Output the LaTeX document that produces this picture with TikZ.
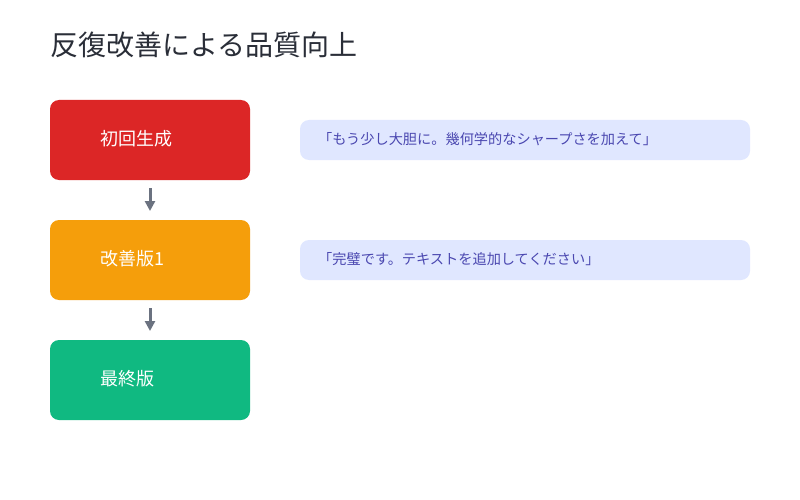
\documentclass[tikz,border=0pt]{standalone}
\usepackage{fontspec}
\setmainfont{Noto Sans CJK JP}
\usetikzlibrary{arrows.meta}
\definecolor{cred}{HTML}{DC2626}
\definecolor{corange}{HTML}{F59E0B}
\definecolor{cgreen}{HTML}{10B981}
\definecolor{carrow}{HTML}{6B7280}
\definecolor{cfbfill}{HTML}{E0E7FF}
\definecolor{cfbtext}{HTML}{4A47B0}
\definecolor{ctitle}{HTML}{2A2E38}
\begin{document}
\begin{tikzpicture}[x=1pt,y=-1pt,
  stage/.style={rounded corners=9pt, minimum width=200pt, minimum height=80pt, inner sep=0pt},
  stagetext/.style={anchor=west, text=white, font=\fontsize{18}{21}\selectfont, inner sep=0pt},
  fb/.style={fill=cfbfill, rounded corners=9pt},
  fbtext/.style={anchor=west, text=cfbtext, font=\fontsize{14.2}{17}\selectfont, inner sep=0pt},
  flow/.style={draw=carrow, line width=3pt, -{Triangle[length=10pt,width=10pt]}}]
\useasboundingbox (0,0) rectangle (800,500);
\fill[white] (0,0) rectangle (800,500);
\node[anchor=west, text=ctitle, font=\fontsize{28}{32}\selectfont, inner sep=0pt] (title) at (50,45) {反復改善による品質向上};
\node[stage, fill=cred] (s1) at (150,140) {};
\node[stage, fill=corange] (s2) at (150,260) {};
\node[stage, fill=cgreen] (s3) at (150,380) {};
\node[stagetext] (t1) at (100,139) {初回生成};
\node[stagetext] (t2) at (100,259) {改善版1};
\node[stagetext] (t3) at (100,379) {最終版};
\coordinate (a1s) at (150,188);
\coordinate (a1e) at (150,211);
\coordinate (a2s) at (150,308);
\coordinate (a2e) at (150,331);
\draw[flow] (a1s) -- (a1e);
\draw[flow] (a2s) -- (a2e);
\fill[fb] (300,120) rectangle (750,160);
\fill[fb] (300,240) rectangle (750,280);
\node[fbtext] (f1) at (318,139) {「もう少し大胆に。幾何学的なシャープさを加えて」};
\node[fbtext] (f2) at (318,259) {「完璧です。テキストを追加してください」};
\end{tikzpicture}
\end{document}
